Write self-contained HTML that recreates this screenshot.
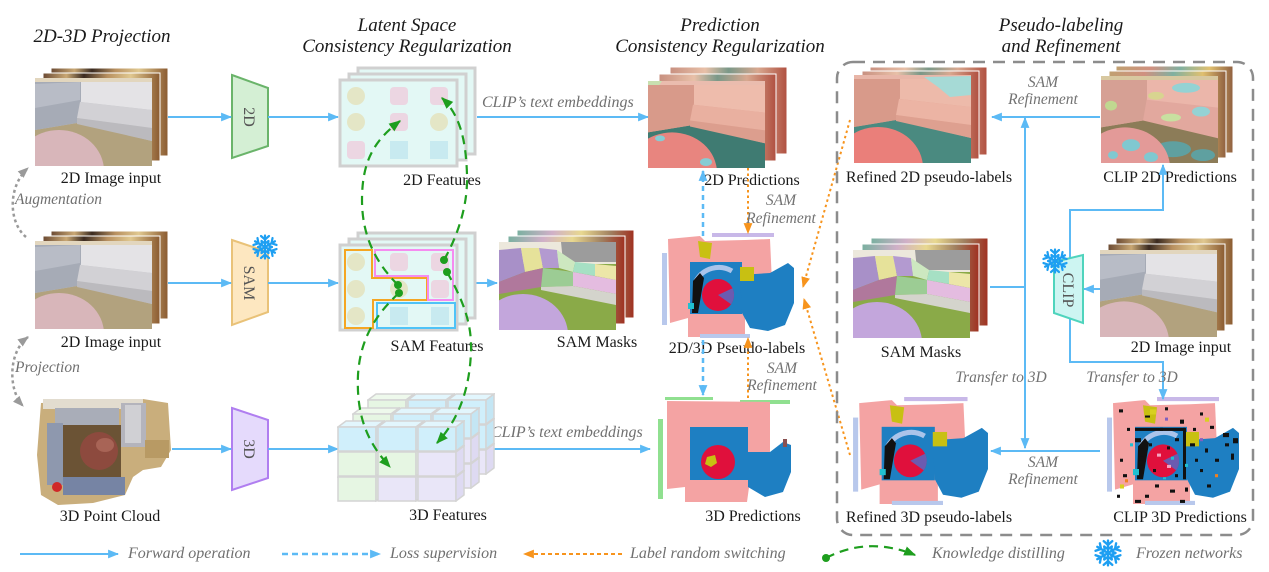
<!DOCTYPE html>
<html><head><meta charset="utf-8"><title>diagram</title>
<style>
html,body{margin:0;padding:0;background:#fff;width:1269px;height:572px;overflow:hidden}
svg{display:block}
.t{font-family:"Liberation Serif",serif;font-style:italic;font-size:19px;fill:#1a1a1a}
.l{font-family:"Liberation Serif",serif;font-size:16px;fill:#1a1a1a}
.g{font-family:"Liberation Serif",serif;font-style:italic;font-size:16px;fill:#707070}
.s{font-family:"Liberation Serif",serif;font-style:italic;font-size:15.5px;fill:#727272}
.enc{font-family:"Liberation Serif",serif;font-size:16px;fill:#555}
</style></head><body>
<svg width="1269" height="572" viewBox="0 0 1269 572" xmlns="http://www.w3.org/2000/svg">
<defs>
<marker id="mb" viewBox="0 0 10 8" refX="9" refY="4" markerWidth="11" markerHeight="9" markerUnits="userSpaceOnUse" orient="auto"><path d="M0,0 L10,4 L0,8 z" fill="#5cbaf5"/></marker>
<marker id="mo" viewBox="0 0 10 8" refX="9" refY="4" markerWidth="11" markerHeight="9" markerUnits="userSpaceOnUse" orient="auto"><path d="M0,0 L10,4 L0,8 z" fill="#f7941d"/></marker>
<marker id="mg" viewBox="0 0 10 8" refX="9" refY="4" markerWidth="12" markerHeight="10" markerUnits="userSpaceOnUse" orient="auto"><path d="M0,0 L10,4 L0,8 z" fill="#1e9e1e"/></marker>
<marker id="mgr" viewBox="0 0 10 8" refX="9" refY="4" markerWidth="11" markerHeight="9" markerUnits="userSpaceOnUse" orient="auto-start-reverse"><path d="M0,0 L10,4 L0,8 z" fill="#9a9a9a"/></marker>

<linearGradient id="bkIn" x1="0" x2="1" y1="0" y2="0"><stop offset="0" stop-color="#6b4a33"/><stop offset=".2" stop-color="#c9a874"/><stop offset=".35" stop-color="#3a2a20"/><stop offset=".55" stop-color="#b89060"/><stop offset=".75" stop-color="#e0c890"/><stop offset="1" stop-color="#8a5a30"/></linearGradient>
<linearGradient id="bkPred" x1="0" x2="1" y1="0" y2="0"><stop offset="0" stop-color="#c89080"/><stop offset=".3" stop-color="#e8c0a8"/><stop offset=".5" stop-color="#7a9888"/><stop offset=".75" stop-color="#d8a890"/><stop offset="1" stop-color="#b05040"/></linearGradient>
<linearGradient id="bkSam" x1="0" x2="1" y1="0" y2="0"><stop offset="0" stop-color="#7ab0a0"/><stop offset=".3" stop-color="#d0b0c8"/><stop offset=".55" stop-color="#e8d890"/><stop offset=".8" stop-color="#a08060"/><stop offset="1" stop-color="#a03020"/></linearGradient>
<linearGradient id="bkClip" x1="0" x2="1" y1="0" y2="0"><stop offset="0" stop-color="#c0a070"/><stop offset=".3" stop-color="#d09080"/><stop offset=".55" stop-color="#80b0a0"/><stop offset=".8" stop-color="#e0c070"/><stop offset="1" stop-color="#906040"/></linearGradient>

<symbol id="snow" viewBox="-13 -13 26 26">
<g stroke="#1e9ff2" stroke-width="2.2" fill="none" stroke-linecap="round">
<g id="arm"><line x1="0" y1="0" x2="0" y2="-11.5"/><polyline points="-4,-11 0,-7.5 4,-11"/><polyline points="-3.5,-6 0,-3.5 3.5,-6"/></g>
<use href="#arm" transform="rotate(60)"/><use href="#arm" transform="rotate(120)"/><use href="#arm" transform="rotate(180)"/><use href="#arm" transform="rotate(240)"/><use href="#arm" transform="rotate(300)"/>
</g></symbol>

<symbol id="sofaIn" viewBox="0 0 117 88" preserveAspectRatio="none">
<rect width="117" height="88" fill="#b2a27e"/>
<rect width="117" height="5" fill="#e2d6be"/>
<polygon points="0,4 117,4 117,63 42,45 0,52" fill="#c8c8cc"/>
<polygon points="0,4 46,4 46,22 42,45 0,52" fill="#a6abb6"/>
<polygon points="0,6 45,4 45,22 0,30" fill="#b8bcc6"/>
<polygon points="46,4 117,4 117,32 46,24" fill="#e4e3e6"/>
<polygon points="45,24 117,32 117,50 42,40" fill="#d2d1d5"/>
<polygon points="42,40 117,50 117,63 42,46" fill="#bbbabe"/>
<ellipse cx="24" cy="93" rx="45" ry="41" fill="#d8b6ba"/>
</symbol>

<symbol id="sofaPred" viewBox="0 0 117 88" preserveAspectRatio="none">
<rect width="117" height="88" fill="#3f7b72"/>
<rect width="117" height="5" fill="#eabcae"/>
<polygon points="0,0 14,0 10,6 0,8" fill="#c8e0b0"/>
<polygon points="0,4 117,4 117,63 42,45 0,52" fill="#e4a898"/>
<polygon points="0,4 46,4 46,22 42,45 0,52" fill="#d89a8a"/>
<polygon points="46,4 117,4 117,32 46,24" fill="#eebcac"/>
<polygon points="45,24 117,32 117,50 42,40" fill="#e9b0a0"/>
<polygon points="42,40 117,50 117,63 42,46" fill="#dc9e8e"/>
<ellipse cx="24" cy="93" rx="45" ry="41" fill="#e8857f"/>
<ellipse cx="58" cy="82" rx="6" ry="4" fill="#86ccd4"/>
<ellipse cx="12" cy="58" rx="5" ry="3" fill="#86ccd4"/>
</symbol>

<symbol id="sofaRef" viewBox="0 0 117 88" preserveAspectRatio="none">
<rect width="117" height="88" fill="#4a8a80"/>
<rect width="117" height="5" fill="#e8b6a8"/>
<polygon points="0,4 117,4 117,63 42,45 0,52" fill="#e4a898"/>
<polygon points="0,4 46,4 46,22 42,45 0,52" fill="#d89a8a"/>
<polygon points="46,4 117,4 117,32 46,24" fill="#edbaaa"/>
<polygon points="70,2 117,1 117,20 96,22 84,12" fill="#a6dad6"/>
<polygon points="45,24 117,32 117,50 42,40" fill="#ecb4a4"/>
<polygon points="42,40 117,50 117,63 42,46" fill="#dea090"/>
<ellipse cx="24" cy="93" rx="45" ry="41" fill="#ea7f7a"/>
</symbol>

<symbol id="sofaClip" viewBox="0 0 117 88" preserveAspectRatio="none">
<rect width="117" height="88" fill="#8c7c58"/>
<ellipse cx="72" cy="74" rx="18" ry="8" fill="#5fa0a0"/>
<ellipse cx="102" cy="80" rx="12" ry="6" fill="#5fa0a0"/>
<rect width="117" height="5" fill="#d8c8a0"/>
<polygon points="0,4 117,4 117,63 42,45 0,52" fill="#e2a89e"/>
<polygon points="0,4 46,4 46,22 42,45 0,52" fill="#d6a094"/>
<polygon points="46,4 117,4 117,32 46,24" fill="#ebb6aa"/>
<ellipse cx="85" cy="12" rx="14" ry="5" fill="#94d2d4"/>
<ellipse cx="55" cy="20" rx="8" ry="4" fill="#d8d490"/>
<ellipse cx="100" cy="36" rx="9" ry="5" fill="#94d2d4"/>
<ellipse cx="70" cy="42" rx="10" ry="4" fill="#c8e0a0"/>
<ellipse cx="10" cy="30" rx="6" ry="5" fill="#c0d890"/>
<ellipse cx="24" cy="93" rx="45" ry="41" fill="#e39a98"/>
<ellipse cx="30" cy="70" rx="9" ry="6" fill="#80c8d0"/>
<ellipse cx="50" cy="82" rx="7" ry="5" fill="#80c8d0"/>
<ellipse cx="12" cy="80" rx="5" ry="4" fill="#80c8d0"/>
</symbol>

<symbol id="sofaSam" viewBox="0 0 117 88" preserveAspectRatio="none">
<rect width="117" height="88" fill="#8aaa48"/>
<rect width="117" height="22" fill="#ece8dc"/>
<polygon points="62,0 117,0 117,20 64,20" fill="#9c9c9c"/>
<polygon points="0,8 22,6 26,30 0,40" fill="#a890c8"/>
<polygon points="22,6 40,6 44,26 26,30" fill="#e6e29a"/>
<polygon points="40,6 58,8 60,26 44,26" fill="#b39ad0"/>
<polygon points="58,8 76,20 74,30 60,26" fill="#cde8c0"/>
<polygon points="76,20 96,22 96,34 74,30" fill="#a6e0c4"/>
<polygon points="96,22 117,24 117,38 96,34" fill="#ece6a8"/>
<polygon points="0,40 26,30 44,26 42,45 0,52" fill="#b0789c"/>
<polygon points="44,26 74,30 74,44 42,45" fill="#9ccc94"/>
<polygon points="74,30 117,38 117,52 74,44" fill="#e4bce0"/>
<polygon points="42,45 74,44 117,52 117,63 42,48" fill="#d4d4cc"/>
<ellipse cx="24" cy="93" rx="45" ry="41" fill="#c3a6dc"/>
</symbol>

<symbol id="pcIn" viewBox="0 0 138 112" preserveAspectRatio="none">
<polygon points="8,8 110,4 135,8 138,55 128,72 110,75 100,82 92,100 60,108 25,110 8,100 4,60" fill="#c9ae7c"/>
<rect x="10" y="4" width="100" height="10" fill="#e2dccf"/>
<rect x="30" y="30" width="58" height="52" fill="#6b5335"/>
<rect x="22" y="13" width="64" height="17" fill="#a9adb8"/>
<rect x="88" y="8" width="25" height="44" fill="#b4b4bc"/>
<rect x="92" y="10" width="16" height="38" fill="#d0d0d4"/>
<rect x="14" y="28" width="16" height="62" fill="#8e98ae"/>
<rect x="30" y="82" width="62" height="18" fill="#7684a4"/>
<circle cx="66" cy="56" r="19" fill="#8d4a3e"/>
<ellipse cx="72" cy="50" rx="9" ry="7" fill="#a86456"/>
<circle cx="24" cy="92" r="5" fill="#d02828"/>
<rect x="112" y="45" width="24" height="18" fill="#b89a64"/>
</symbol>

<symbol id="pcLab" viewBox="0 0 135 105" preserveAspectRatio="none">
<rect x="2" y="20" width="5" height="72" fill="#b8c8ec"/>
<rect x="52" y="0" width="62" height="4" fill="#c8b8e8"/>
<polygon points="8,6 40,3 45,8 85,7 110,6 112,50 85,82 85,104 28,104 28,85 10,90" fill="#f4a3a3"/>
<rect x="30" y="29" width="52" height="52" fill="#1e7fc2"/>
<polygon points="80,42 110,40 128,30 134,35 134,70 125,92 108,98 90,95 82,80" fill="#1e7fc2"/>
<path d="M36,48 A26,26 0 0 1 72,38" stroke="#aac4ea" stroke-width="5" fill="none"/>
<polygon points="33,48 40,40 44,45 38,80 32,80" fill="#111"/>
<circle cx="58" cy="62" r="16" fill="#e0103c"/>
<path d="M58,62 L72.5,55.2 A16,16 0 0 1 71.1,71.2 Z" fill="#6b5bb0"/>
<polygon points="38,8 52,10 50,26 40,24" fill="#c8c012"/>
<rect x="80" y="34" width="14" height="14" fill="#c8c012"/>
<rect x="28" y="70" width="6" height="6" fill="#20c0d0"/>
<rect x="40" y="101" width="50" height="4" fill="#b8c8ec"/>
</symbol>

<symbol id="pcClip" viewBox="0 0 135 105" preserveAspectRatio="none">
<use href="#pcLab" width="135" height="105"/>
<g fill="#111">
<rect x="14" y="12" width="4" height="3"/><rect x="22" y="30" width="3" height="3"/><rect x="40" y="18" width="5" height="2"/><rect x="60" y="10" width="3" height="3"/><rect x="75" y="22" width="4" height="4"/><rect x="95" y="15" width="3" height="3"/><rect x="105" y="28" width="4" height="3"/><rect x="30" y="40" width="6" height="4"/><rect x="35" y="50" width="4" height="8"/><rect x="33" y="62" width="5" height="5"/><rect x="44" y="45" width="3" height="3"/><rect x="70" y="40" width="4" height="3"/><rect x="85" y="45" width="5" height="3"/><rect x="100" y="50" width="3" height="4"/><rect x="120" y="45" width="4" height="3"/><rect x="126" y="55" width="3" height="6"/><rect x="110" y="60" width="4" height="3"/><rect x="15" y="60" width="3" height="3"/><rect x="18" y="75" width="4" height="3"/><rect x="50" y="85" width="4" height="3"/><rect x="65" y="90" width="5" height="3"/><rect x="80" y="88" width="3" height="4"/><rect x="40" y="95" width="4" height="3"/><rect x="95" y="70" width="3" height="3"/><rect x="30" y="100" width="6" height="3"/><rect x="75" y="100" width="5" height="3"/><rect x="12" y="95" width="3" height="3"/><rect x="102" y="85" width="4" height="3"/><rect x="55" y="30" width="3" height="3"/><rect x="88" y="30" width="3" height="3"/><rect x="62" y="48" width="3" height="3"/><rect x="48" y="70" width="3" height="3"/><rect x="70" y="75" width="3" height="3"/><rect x="118" y="35" width="6" height="4"/><rect x="128" y="40" width="5" height="5"/><rect x="90" y="60" width="3" height="3"/><rect x="30" y="30" width="50" height="3"/><rect x="78" y="30" width="3" height="50"/>
</g>
<rect x="25" y="45" width="3" height="3" fill="#20c0d0"/><rect x="80" y="65" width="3" height="3" fill="#20c0d0"/><rect x="58" y="78" width="3" height="2" fill="#20c0d0"/>
<rect x="45" y="12" width="6" height="5" fill="#d8d020"/><rect x="100" y="20" width="4" height="4" fill="#d8d020"/><rect x="15" y="85" width="4" height="4" fill="#d8d020"/>
<rect x="20" y="80" width="3" height="3" fill="#f08020"/><rect x="110" y="75" width="3" height="3" fill="#f08020"/>
<rect x="52" y="55" width="4" height="3" fill="#f4a3c0"/><rect x="62" y="66" width="4" height="3" fill="#f4a3c0"/><rect x="66" y="58" width="3" height="3" fill="#20c0d0"/>
<rect x="60" y="20" width="3" height="3" fill="#8060c0"/><rect x="95" y="40" width="3" height="3" fill="#8060c0"/>
</symbol>

<symbol id="pc3d" viewBox="0 0 138 110" preserveAspectRatio="none">
<rect x="10" y="0" width="48" height="3" fill="#90e090"/>
<rect x="85" y="3" width="50" height="4" fill="#90e090"/>
<rect x="3" y="22" width="5" height="80" fill="#90e090"/>
<polygon points="12,4 115,5 115,55 95,55 95,83 92,105 30,105 30,90 12,92" fill="#f4a3a3"/>
<rect x="35" y="30" width="58" height="53" fill="#1e7fc2"/>
<polygon points="93,55 115,55 128,45 136,48 136,75 128,95 110,100 93,90" fill="#1e7fc2"/>
<circle cx="63" cy="65" r="17" fill="#e0103c"/>
<polygon points="52,60 60,58 62,66 56,70 50,67" fill="#c8c012"/>
<rect x="128" y="42" width="4" height="8" fill="#8a5050"/>
</symbol>

<symbol id="cC" viewBox="0 0 48 32"><g stroke="#d4d4d4" stroke-width="1.5"><polygon points="1,7 9,1 47,1 39,7" fill="#e2f6fd"/><rect x="1" y="7" width="38" height="24" fill="#d0effb"/><polygon points="39,7 47,1 47,25 39,31" fill="#c4e6f4"/></g></symbol>
<symbol id="cG" viewBox="0 0 48 32"><g stroke="#d4d4d4" stroke-width="1.5"><polygon points="1,7 9,1 47,1 39,7" fill="#eef9ec"/><rect x="1" y="7" width="38" height="24" fill="#e6f6e3"/><polygon points="39,7 47,1 47,25 39,31" fill="#dcefd8"/></g></symbol>
<symbol id="cL" viewBox="0 0 48 32"><g stroke="#d4d4d4" stroke-width="1.5"><polygon points="1,7 9,1 47,1 39,7" fill="#f0eefb"/><rect x="1" y="7" width="38" height="24" fill="#e9e6f8"/><polygon points="39,7 47,1 47,25 39,31" fill="#dedaf2"/></g></symbol>
</defs>

<rect width="1269" height="572" fill="#fff"/>

<!-- Titles -->
<text class="t" x="102" y="42" text-anchor="middle">2D-3D Projection</text>
<text class="t" x="407" y="31" text-anchor="middle">Latent Space</text>
<text class="t" x="407" y="52" text-anchor="middle">Consistency Regularization</text>
<text class="t" x="720" y="31" text-anchor="middle">Prediction</text>
<text class="t" x="720" y="52" text-anchor="middle">Consistency Regularization</text>
<text class="t" x="1061" y="31" text-anchor="middle">Pseudo-labeling</text>
<text class="t" x="1061" y="52" text-anchor="middle">and Refinement</text>

<!-- Row1 input -->
<rect x="51" y="68" width="117" height="88" fill="url(#bkIn)" stroke="#fff"/>
<rect x="43" y="73" width="117" height="88" fill="url(#bkIn)" stroke="#fff"/>
<use href="#sofaIn" x="35" y="78" width="117" height="88"/>
<text class="l" x="111" y="183" text-anchor="middle">2D Image input</text>

<!-- Row2 input -->
<rect x="51" y="231" width="117" height="88" fill="url(#bkIn)" stroke="#fff"/>
<rect x="43" y="236" width="117" height="88" fill="url(#bkIn)" stroke="#fff"/>
<use href="#sofaIn" x="35" y="241" width="117" height="88"/>
<text class="l" x="111" y="347" text-anchor="middle">2D Image input</text>

<!-- Row3 point cloud -->
<use href="#pcIn" x="33" y="395" width="138" height="112"/>
<text class="l" x="110" y="521" text-anchor="middle">3D Point Cloud</text>

<!-- gray dotted -->
<path d="M26,237 C8,222 8,186 28,168" stroke="#9a9a9a" stroke-width="2.5" stroke-dasharray="3,3" fill="none" marker-end="url(#mgr)"/>
<text class="g" x="15" y="204" style="font-size:15.5px">Augmentation</text>
<path d="M28,337 C8,352 8,390 23,406" stroke="#9a9a9a" stroke-width="2.5" stroke-dasharray="3,3" fill="none" marker-start="url(#mgr)" marker-end="url(#mgr)"/>
<text class="g" x="15" y="372" style="font-size:15.5px">Projection</text>

<!-- encoders -->
<polygon points="232,75 268,88 268,146 232,158" fill="#d4efd4" stroke="#6ab46a" stroke-width="2"/>
<text class="enc" transform="translate(244,117) rotate(90)" text-anchor="middle">2D</text>
<polygon points="232,240 268,252 268,312 232,325" fill="#fde7c0" stroke="#e9c278" stroke-width="2"/>
<text class="enc" transform="translate(244,283) rotate(90)" text-anchor="middle">SAM</text>
<use href="#snow" x="252" y="234" width="26" height="26"/>
<polygon points="232,408 268,420 268,478 232,490" fill="#e5dafc" stroke="#b07ef0" stroke-width="2"/>
<text class="enc" transform="translate(244,449) rotate(90)" text-anchor="middle">3D</text>

<!-- blue arrows left -->
<g stroke="#5cbaf5" stroke-width="2" fill="none">
<line x1="168" y1="117" x2="231" y2="117" marker-end="url(#mb)"/>
<line x1="268" y1="117" x2="338" y2="117" marker-end="url(#mb)"/>
<line x1="168" y1="283" x2="231" y2="283" marker-end="url(#mb)"/>
<line x1="268" y1="283" x2="338" y2="283" marker-end="url(#mb)"/>
<line x1="172" y1="449" x2="231" y2="449" marker-end="url(#mb)"/>
<line x1="268" y1="449" x2="338" y2="449" marker-end="url(#mb)"/>
<line x1="477" y1="117" x2="648" y2="117" marker-end="url(#mb)"/>
<line x1="475" y1="283" x2="497" y2="283" marker-end="url(#mb)"/>
<line x1="480" y1="449" x2="650" y2="449" marker-end="url(#mb)"/>
</g>
<text class="g" x="482" y="107">CLIP’s text embeddings</text>
<text class="g" x="491" y="437">CLIP’s text embeddings</text>

<!-- 2D Features -->
<g stroke="#d0d0d0" stroke-width="3" fill="#e3f8f5">
<rect x="358" y="68" width="117" height="86"/>
<rect x="349" y="74" width="117" height="86"/>
<rect x="340" y="80" width="117" height="86"/>
</g>
<g>
<circle cx="356" cy="96" r="9" fill="#e4e6c6"/>
<rect x="390" y="87" width="18" height="18" rx="4" fill="#ecd6e2"/>
<rect x="430" y="87" width="18" height="18" rx="4" fill="#ecd6e2"/>
<circle cx="356" cy="122" r="9" fill="#e4e6c6"/>
<rect x="390" y="113" width="18" height="18" rx="4" fill="#ecd6e2"/>
<circle cx="439" cy="122" r="9" fill="#e4e6c6"/>
<rect x="347" y="141" width="18" height="18" rx="4" fill="#ecd6e2"/>
<rect x="390" y="141" width="18" height="18" fill="#c8eaf0"/>
<rect x="430" y="141" width="18" height="18" fill="#c8eaf0"/>
</g>
<text class="l" x="442" y="185" text-anchor="middle">2D Features</text>

<!-- SAM Features -->
<g stroke="#d0d0d0" stroke-width="3" fill="#e3f8f5">
<rect x="358" y="233" width="117" height="85"/>
<rect x="349" y="239" width="117" height="85"/>
<rect x="340" y="245" width="117" height="85"/>
</g>
<g>
<circle cx="356" cy="262" r="9" fill="#e4e6c6"/>
<rect x="390" y="253" width="18" height="18" rx="4" fill="#ecd6e2"/>
<rect x="431" y="253" width="18" height="18" rx="4" fill="#ecd6e2"/>
<circle cx="356" cy="289" r="9" fill="#e4e6c6"/>
<circle cx="399" cy="289" r="9" fill="#e4e6c6"/>
<rect x="431" y="280" width="18" height="18" rx="4" fill="#ecd6e2"/>
<circle cx="356" cy="316" r="9" fill="#e4e6c6"/>
<rect x="390" y="307" width="18" height="18" fill="#c8eaf0"/>
<rect x="431" y="307" width="18" height="18" fill="#c8eaf0"/>
</g>
<polygon points="345,250 372,250 372,278 427,278 427,300 373,300 373,328 345,328" fill="none" stroke="#f5a623" stroke-width="2"/>
<polygon points="375,250 453,250 453,300 428,300 428,276 375,276" fill="none" stroke="#f58cf0" stroke-width="2"/>
<rect x="377" y="303" width="78" height="25" fill="none" stroke="#4fc3f7" stroke-width="2"/>
<text class="l" x="437" y="351" text-anchor="middle">SAM Features</text>

<!-- 3D Features cubes -->
<g>
<use href="#cL" x="367" y="443" width="48" height="32"/><use href="#cL" x="407" y="443" width="48" height="32"/><use href="#cL" x="447" y="443" width="48" height="32"/>
<use href="#cG" x="367" y="418" width="48" height="32"/><use href="#cC" x="407" y="418" width="48" height="32"/><use href="#cC" x="447" y="418" width="48" height="32"/>
<use href="#cG" x="367" y="393" width="48" height="32"/><use href="#cC" x="407" y="393" width="48" height="32"/><use href="#cC" x="447" y="393" width="48" height="32"/>
<use href="#cG" x="352" y="457" width="48" height="32"/><use href="#cL" x="392" y="457" width="48" height="32"/><use href="#cL" x="432" y="457" width="48" height="32"/>
<use href="#cG" x="352" y="432" width="48" height="32"/><use href="#cC" x="392" y="432" width="48" height="32"/><use href="#cL" x="432" y="432" width="48" height="32"/>
<use href="#cG" x="352" y="407" width="48" height="32"/><use href="#cC" x="392" y="407" width="48" height="32"/><use href="#cC" x="432" y="407" width="48" height="32"/>
<use href="#cG" x="337" y="470" width="48" height="32"/><use href="#cL" x="377" y="470" width="48" height="32"/><use href="#cL" x="417" y="470" width="48" height="32"/>
<use href="#cG" x="337" y="445" width="48" height="32"/><use href="#cG" x="377" y="445" width="48" height="32"/><use href="#cL" x="417" y="445" width="48" height="32"/>
<use href="#cC" x="337" y="420" width="48" height="32"/><use href="#cC" x="377" y="420" width="48" height="32"/><use href="#cC" x="417" y="420" width="48" height="32"/>
</g>
<text class="l" x="448" y="520" text-anchor="middle">3D Features</text>

<!-- Green distillation -->
<g stroke="#1e9e1e" stroke-width="2.2" fill="none" stroke-dasharray="9,6">
<path d="M398,285 C375,262 362,235 362,200 C362,160 375,140 400,121" marker-end="url(#mg)"/>
<path d="M444,260 C458,235 468,205 467,175 C466,140 460,115 442,98" marker-end="url(#mg)"/>
<path d="M399,293 C375,315 360,340 358,375 C356,420 370,445 390,467" marker-end="url(#mg)"/>
<path d="M447,272 C460,295 472,320 471,350 C470,390 458,420 437,443" marker-end="url(#mg)"/>
</g>
<g fill="#1e9e1e">
<circle cx="398" cy="285" r="4"/><circle cx="399" cy="293" r="4"/><circle cx="444" cy="260" r="4"/><circle cx="447" cy="272" r="4"/>
</g>

<!-- SAM masks middle -->
<rect x="517" y="230" width="117" height="88" fill="url(#bkSam)" stroke="#fff"/>
<rect x="508" y="236" width="117" height="88" fill="url(#bkSam)" stroke="#fff"/>
<use href="#sofaSam" x="499" y="242" width="117" height="88"/>
<text class="l" x="597" y="347" text-anchor="middle">SAM Masks</text>

<!-- 2D predictions -->
<rect x="670" y="67" width="117" height="87" fill="url(#bkPred)" stroke="#fff"/>
<rect x="659" y="74" width="117" height="87" fill="url(#bkPred)" stroke="#fff"/>
<use href="#sofaPred" x="648" y="81" width="117" height="87"/>
<text class="l" x="752" y="185" text-anchor="middle">2D Predictions</text>

<!-- pseudo labels -->
<use href="#pcLab" x="660" y="233" width="135" height="105"/>
<text class="l" x="737" y="353" text-anchor="middle">2D/3D Pseudo-labels</text>

<!-- 3D predictions -->
<use href="#pc3d" x="655" y="397" width="138" height="110"/>
<text class="l" x="753" y="521" text-anchor="middle">3D Predictions</text>

<!-- middle dashed arrows -->
<g stroke="#5cbaf5" stroke-width="2.5" fill="none" stroke-dasharray="5,4">
<line x1="703" y1="236" x2="703" y2="171" marker-end="url(#mb)"/>
<line x1="703" y1="340" x2="703" y2="395" marker-end="url(#mb)"/>
</g>
<g stroke="#f7941d" stroke-width="2" fill="none" stroke-dasharray="2.5,3">
<line x1="748" y1="168" x2="748" y2="233" marker-end="url(#mo)"/>
<line x1="748" y1="398" x2="748" y2="338" marker-end="url(#mo)"/>
<line x1="850" y1="120" x2="803" y2="287" marker-end="url(#mo)"/>
<line x1="850" y1="455" x2="804" y2="299" marker-end="url(#mo)"/>
</g>
<text class="s" x="781" y="205" text-anchor="middle">SAM</text>
<text class="s" x="781" y="223" text-anchor="middle">Refinement</text>
<text class="s" x="782" y="373" text-anchor="middle">SAM</text>
<text class="s" x="782" y="390" text-anchor="middle">Refinement</text>

<!-- Right panel dashed box -->
<rect x="837" y="62" width="416" height="473" rx="16" fill="none" stroke="#8c8c8c" stroke-width="2.5" stroke-dasharray="12,8"/>

<!-- Refined 2D -->
<rect x="870" y="67" width="117" height="88" fill="url(#bkPred)" stroke="#fff"/>
<rect x="862" y="71" width="117" height="88" fill="url(#bkPred)" stroke="#fff"/>
<use href="#sofaRef" x="854" y="75" width="117" height="88"/>
<text class="l" x="929" y="182" text-anchor="middle">Refined 2D pseudo-labels</text>

<!-- CLIP 2D -->
<rect x="1116" y="66" width="117" height="87" fill="url(#bkClip)" stroke="#fff"/>
<rect x="1109" y="71" width="117" height="87" fill="url(#bkClip)" stroke="#fff"/>
<use href="#sofaClip" x="1101" y="76" width="117" height="87"/>
<text class="l" x="1170" y="182" text-anchor="middle">CLIP 2D Predictions</text>

<!-- SAM masks right -->
<rect x="871" y="238" width="117" height="88" fill="url(#bkSam)" stroke="#fff"/>
<rect x="862" y="244" width="117" height="88" fill="url(#bkSam)" stroke="#fff"/>
<use href="#sofaSam" x="853" y="250" width="117" height="88"/>
<text class="l" x="921" y="357" text-anchor="middle">SAM Masks</text>

<!-- 2D image input right -->
<rect x="1116" y="238" width="117" height="87" fill="url(#bkIn)" stroke="#fff"/>
<rect x="1108" y="244" width="117" height="87" fill="url(#bkIn)" stroke="#fff"/>
<use href="#sofaIn" x="1100" y="250" width="117" height="87"/>
<text class="l" x="1181" y="352" text-anchor="middle">2D Image input</text>

<!-- Refined 3D -->
<use href="#pcLab" x="851" y="397" width="138" height="108"/>
<text class="l" x="929" y="522" text-anchor="middle">Refined 3D pseudo-labels</text>

<!-- CLIP 3D -->
<use href="#pcClip" x="1105" y="397" width="135" height="108"/>
<text class="l" x="1180" y="522" text-anchor="middle">CLIP 3D Predictions</text>

<!-- right arrows -->
<g stroke="#5cbaf5" stroke-width="2" fill="none">
<line x1="1100" y1="117" x2="992" y2="117" marker-end="url(#mb)"/>
<line x1="1025" y1="448" x2="1025" y2="118" marker-end="url(#mb)"/>
<line x1="1025" y1="200" x2="1025" y2="448" marker-end="url(#mb)"/>
<line x1="990" y1="287" x2="1025" y2="287"/>
<line x1="1100" y1="451" x2="991" y2="451" marker-end="url(#mb)"/>
<line x1="1100" y1="289" x2="1084" y2="289" marker-end="url(#mb)"/>
<polyline points="1070,258 1070,210 1163,210 1163,165" marker-end="url(#mb)"/>
<polyline points="1070,318 1070,362 1163,362 1163,399" marker-end="url(#mb)"/>
</g>

<!-- CLIP encoder -->
<polygon points="1054,262 1083,255 1083,323 1054,313" fill="#cdf5f2" stroke="#4fd4bd" stroke-width="2"/>
<text class="enc" transform="translate(1063,290) rotate(90)" text-anchor="middle">CLIP</text>
<use href="#snow" x="1042" y="248" width="26" height="26"/>

<text class="s" x="1043" y="87" text-anchor="middle">SAM</text>
<text class="s" x="1043" y="104" text-anchor="middle">Refinement</text>
<text class="s" x="1043" y="467" text-anchor="middle">SAM</text>
<text class="s" x="1043" y="484" text-anchor="middle">Refinement</text>
<text class="s" x="1001" y="382" text-anchor="middle">Transfer to 3D</text>
<text class="s" x="1132" y="382" text-anchor="middle">Transfer to 3D</text>

<!-- Legend -->
<line x1="20" y1="554" x2="118" y2="554" stroke="#5cbaf5" stroke-width="2" marker-end="url(#mb)"/>
<text class="g" x="128" y="558">Forward operation</text>
<line x1="282" y1="554" x2="380" y2="554" stroke="#5cbaf5" stroke-width="2.5" stroke-dasharray="6,4" marker-end="url(#mb)"/>
<text class="g" x="390" y="558">Loss supervision</text>
<line x1="622" y1="554" x2="524" y2="554" stroke="#f7941d" stroke-width="2" stroke-dasharray="4,3" marker-end="url(#mo)"/>
<text class="g" x="630" y="558">Label random switching</text>
<circle cx="826" cy="558" r="4" fill="#1e9e1e"/>
<path d="M826,558 Q868,536 915,555" stroke="#1e9e1e" stroke-width="2.2" stroke-dasharray="9,6" fill="none" marker-end="url(#mg)"/>
<text class="g" x="932" y="558">Knowledge distilling</text>
<use href="#snow" x="1094" y="539" width="28" height="28"/>
<text class="g" x="1136" y="558">Frozen networks</text>
</svg>
</body></html>
